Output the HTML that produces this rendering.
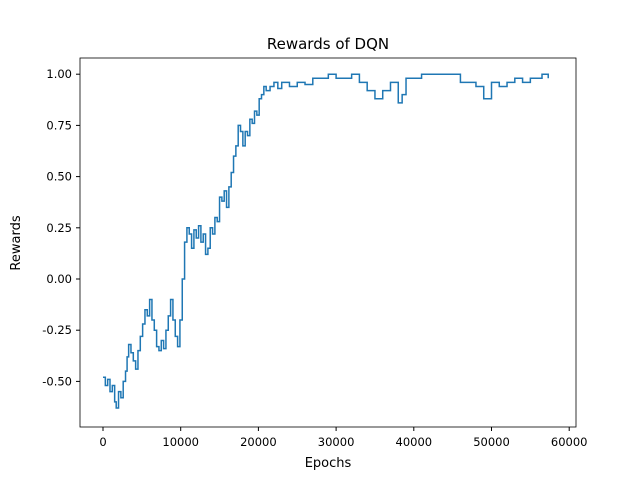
<!DOCTYPE html>
<html><head><meta charset="utf-8"><style>
body{margin:0;background:#fff;font-family:"Liberation Sans","DejaVu Sans",sans-serif;}
svg text{font-family:"DejaVu Sans","Liberation Sans",sans-serif;}
</style></head><body>
<svg id="chart" width="640" height="480" xmlns="http://www.w3.org/2000/svg">
<rect width="640" height="480" fill="#fff"/>
<text x="328" y="49" font-size="15" text-anchor="middle">Rewards of DQN</text>
<text x="328" y="467" font-size="13" text-anchor="middle">Epochs</text>
<text transform="translate(20,243) rotate(-90)" font-size="13" text-anchor="middle">Rewards</text>
<g id="ticks"></g>
<path id="line" fill="none" stroke="#1f77b4" stroke-width="1.5"/>
<rect x="80" y="58" width="496" height="369" fill="none" stroke="#000" stroke-width="0.8"/>
</svg>
<script>
const epochs=[0,300,600,900,1200,1500,1700,2000,2300,2600,2900,3100,3300,3600,3900,4200,4500,4800,5100,5400,5700,6000,6300,6600,6900,7200,7500,7800,8100,8400,8700,9000,9300,9600,9900,10200,10500,10800,11100,11400,11700,12000,12300,12600,12900,13200,13500,13800,14100,14400,14700,15000,15300,15600,15900,16200,16500,16800,17100,17400,17700,18000,18300,18600,18900,19200,19500,19800,20100,20400,20700,21000,21500,22000,22500,23000,24000,25000,26000,27000,28000,29000,30000,31000,32000,33000,34000,35000,36000,37000,38000,38500,39000,40000,41000,45000,46000,47000,48000,49000,50000,51000,52000,53000,54000,55000,56000,56500,57300];
const rewards=[-0.48,-0.52,-0.49,-0.55,-0.52,-0.60,-0.63,-0.55,-0.58,-0.50,-0.45,-0.38,-0.32,-0.36,-0.40,-0.44,-0.35,-0.28,-0.22,-0.15,-0.18,-0.10,-0.20,-0.25,-0.33,-0.35,-0.30,-0.34,-0.25,-0.18,-0.10,-0.20,-0.28,-0.33,-0.20,0.0,0.18,0.25,0.22,0.15,0.24,0.20,0.26,0.18,0.22,0.12,0.15,0.25,0.22,0.30,0.28,0.40,0.38,0.43,0.35,0.45,0.52,0.60,0.65,0.75,0.72,0.65,0.72,0.70,0.78,0.76,0.82,0.80,0.88,0.90,0.94,0.92,0.94,0.96,0.93,0.96,0.94,0.96,0.95,0.98,0.98,1.0,0.98,0.98,1.0,0.96,0.92,0.88,0.92,0.96,0.86,0.90,0.98,0.98,1.0,1.0,0.96,0.96,0.94,0.88,0.96,0.94,0.96,0.98,0.96,0.98,0.98,1.0,0.98];
const xTicks=[0,10000,20000,30000,40000,50000,60000];
const yTicks=[-0.50,-0.25,0.00,0.25,0.50,0.75,1.00];
const X=v=>103+v*0.00777;
const Y=v=>279-v*204.8;
const NS="http://www.w3.org/2000/svg";
const g=document.getElementById('ticks');
xTicks.forEach(t=>{
 const l=document.createElementNS(NS,'line');
 l.setAttribute('x1',X(t));l.setAttribute('x2',X(t));l.setAttribute('y1',427);l.setAttribute('y2',431);l.setAttribute('stroke','#000');
 
 
 g.appendChild(l);
 const tx=document.createElementNS(NS,'text');
 tx.setAttribute('x',X(t));tx.setAttribute('y',446);tx.setAttribute('font-size','11.5');tx.setAttribute('text-anchor','middle');
 tx.textContent=t;
 
 
 g.appendChild(tx);
});
yTicks.forEach(t=>{
 const l=document.createElementNS(NS,'line');
 l.setAttribute('x1',76);l.setAttribute('x2',80);l.setAttribute('y1',Y(t));l.setAttribute('y2',Y(t));l.setAttribute('stroke','#000');
 
 
 g.appendChild(l);
 const tx=document.createElementNS(NS,'text');
 tx.setAttribute('x',72);tx.setAttribute('y',Y(t)+4);tx.setAttribute('font-size','11.5');tx.setAttribute('text-anchor','end');
 tx.textContent=t.toFixed(2);
 
 
 g.appendChild(tx);
});
let d='';
epochs.forEach((e,i)=>{
 if(i===0)d+='M'+X(e)+' '+Y(rewards[i]);
 else d+=' L'+X(e)+' '+Y(rewards[i-1])+' L'+X(e)+' '+Y(rewards[i]);
});
document.getElementById('line').setAttribute('d',d);
</script>
</body></html>
